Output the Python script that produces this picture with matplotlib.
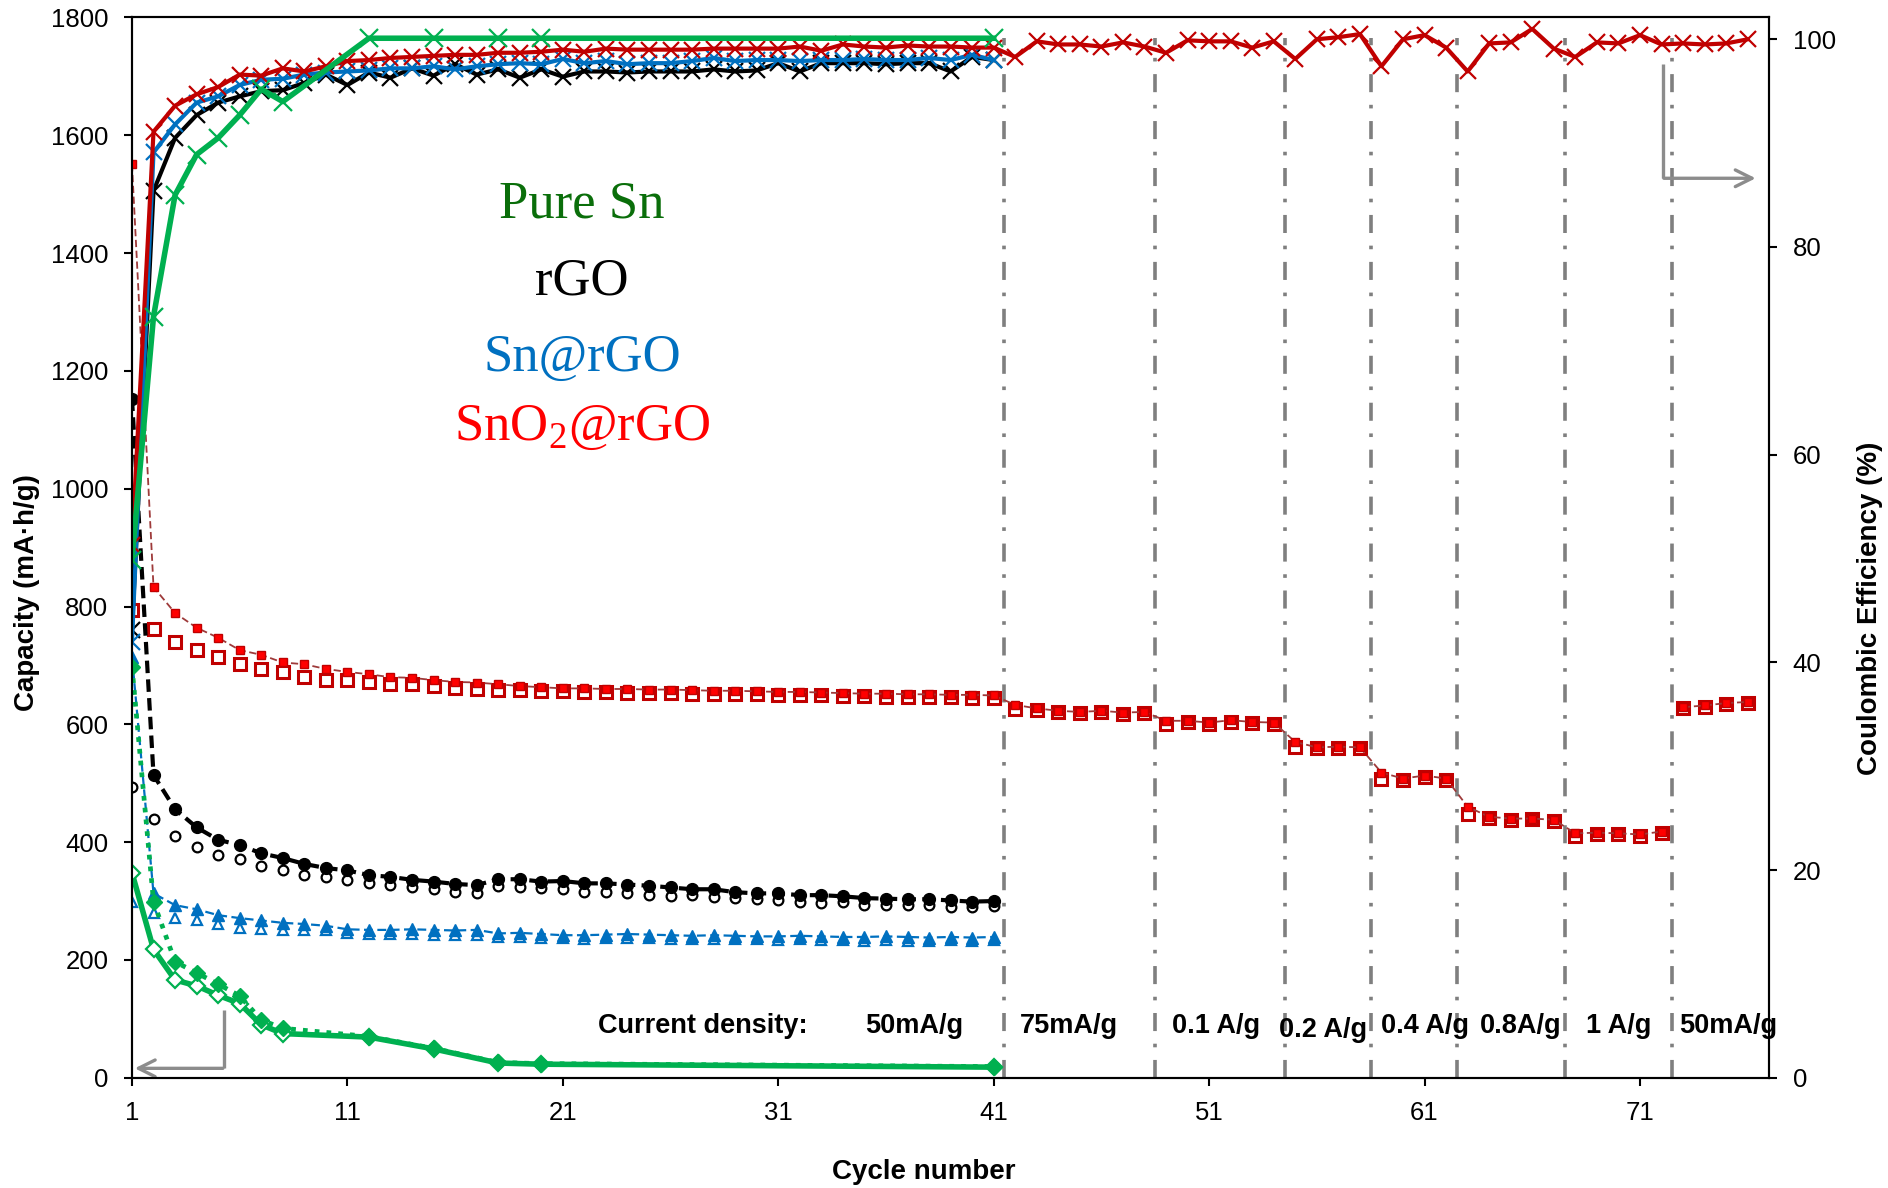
import matplotlib
matplotlib.use("Agg")
import matplotlib.pyplot as plt

plt.rcParams["font.family"] = ["Liberation Sans", "DejaVu Sans"]
plt.rcParams["mathtext.fontset"] = "custom"
plt.rcParams["mathtext.rm"] = "Liberation Serif"

# ===== Data =====
cyc41 = list(range(1, 42))
cyc76 = list(range(1, 77))
cyc_sn = [1, 2, 3, 4, 5, 6, 7, 8, 12, 15, 18, 20, 41]

# SnO2@rGO capacity (mA h/g)
sno2_dis = [1551, 833, 789, 764, 747, 726, 718, 705, 702, 694, 689, 685, 680, 679, 675, 672, 671, 668, 665, 663,
            661, 661, 660, 660, 659, 659, 658, 657, 657, 656, 655, 655, 654, 653, 652, 652, 651, 651, 650, 650, 649,
            633, 627, 623, 621, 623, 620, 621,
            606, 606, 603, 607, 604, 603,
            570, 561, 562, 561,
            518, 508, 513, 508,
            460, 443, 440, 440, 438,
            415, 416, 415, 413, 418,
            629, 632, 636, 638]
sno2_chg = [794, 761, 740, 726, 714, 702, 694, 688, 680, 676, 675, 672, 668, 668, 665, 662, 660, 658, 658, 657,
            656, 655, 655, 654, 654, 653, 652, 652, 651, 651, 650, 649, 649, 648, 648, 647, 647, 646, 646, 645, 645,
            626, 624, 621, 620, 621, 618, 619,
            600, 604, 601, 604, 602, 601,
            562, 559, 560, 559,
            508, 506, 510, 506,
            448, 441, 438, 440, 436,
            410, 413, 413, 411, 416,
            627, 630, 634, 636]

# rGO capacity
rgo_dis = [1153, 514, 456, 425, 404, 395, 381, 373, 363, 356, 352, 344, 341, 336, 333, 329, 327, 337, 337, 333,
           334, 330, 330, 328, 326, 323, 320, 320, 315, 313, 313, 310, 310, 308, 305, 304, 303, 303, 301, 299, 300]
rgo_chg = [493, 439, 410, 392, 378, 371, 359, 353, 344, 341, 335, 330, 327, 323, 320, 316, 313, 325, 323, 322,
           321, 316, 315, 313, 310, 308, 310, 307, 305, 303, 301, 298, 297, 298, 294, 293, 293, 294, 290, 290, 291]

# Sn@rGO capacity
snrgo_dis = [715, 313, 293, 286, 276, 271, 267, 263, 261, 258, 252, 251, 251, 252, 251, 250, 251, 245, 246, 244,
             242, 242, 243, 244, 243, 242, 241, 242, 241, 240, 240, 241, 240, 239, 239, 240, 239, 238, 239, 238, 239]
snrgo_chg = [299, 279, 271, 267, 261, 255, 252, 251, 251, 250, 245, 244, 244, 244, 242, 242, 242, 239, 239, 238,
             237, 236, 237, 238, 237, 236, 235, 236, 235, 235, 234, 235, 234, 234, 233, 234, 233, 233, 234, 233, 234]

# Pure Sn capacity
sn_dis = [698, 299, 197, 178, 159, 139, 98, 84, 70, 50, 26, 24, 19]
sn_chg = [348, 218, 166, 156, 140, 126, 90, 75, 69, 49, 25, 23, 18]

# Coulombic efficiency (%)
sno2_ce = [51.3, 91.1, 93.6, 94.7, 95.4, 96.6, 96.5, 97.2, 96.9, 97.4, 97.9, 98.0, 98.2, 98.3, 98.4, 98.5, 98.5,
           98.7, 98.7, 98.8, 99.0, 98.8, 99.1, 99.0, 99.0, 99.0, 99.0, 99.1, 99.1, 99.1, 99.1, 99.3, 98.9, 99.5,
           99.3, 99.2, 99.4, 99.3, 99.3, 99.2, 99.2,
           98.3, 99.8, 99.5, 99.5, 99.3, 99.7, 99.3, 98.7, 99.9, 99.8, 99.8, 99.2, 99.8, 98.1, 100.0, 100.2,
           100.5, 97.4, 100.0, 100.4, 99.2, 96.9, 99.6, 99.7, 101.0, 99.1, 98.3, 99.7, 99.6, 100.4, 99.5, 99.6,
           99.5, 99.6, 100.0]
rgo_ce = [43.1, 85.4, 90.5, 92.7, 93.9, 94.5, 95.0, 95.1, 95.8, 96.6, 95.6, 96.8, 96.3, 97.2, 96.5, 97.6, 96.6,
          97.1, 96.3, 97.1, 96.4, 96.9, 96.9, 96.8, 96.9, 96.9, 96.9, 97.1, 96.9, 97.0, 97.7, 96.9, 97.7, 97.7,
          97.7, 97.6, 97.7, 97.7, 96.9, 98.3, 98.0]
snrgo_ce = [42.0, 89.1, 91.8, 93.9, 94.5, 95.6, 96.1, 96.2, 96.6, 96.8, 96.9, 97.0, 97.2, 97.2, 97.4, 97.1, 97.4,
            97.6, 97.7, 97.6, 98.1, 97.7, 97.9, 97.6, 97.7, 97.7, 97.9, 98.2, 97.9, 98.0, 98.0, 97.9, 98.0, 98.0,
            98.1, 98.0, 98.0, 98.2, 98.0, 98.5, 98.0]
sn_ce = [49.9, 73.3, 85.0, 88.9, 90.5, 92.7, 95.2, 94.0, 100.1, 100.1, 100.1, 100.1, 100.1]

# Current density steps
rate_changes = [41.5, 48.5, 54.5, 58.5, 62.5, 67.5, 72.5]
rate_labels = ["50mA/g", "75mA/g", "0.1 A/g", "0.2 A/g", "0.4 A/g", "0.8A/g", "1 A/g", "50mA/g"]
rate_label_x = [37.3, 44.5, 51.3, 56.3, 61.0, 65.45, 70.0, 75.1]
rate_label_y = [76, 76, 76, 70, 76, 76, 76, 76]

# ===== Colors =====
GREEN = "#00B050"
BLUE = "#0070C0"
DRED = "#C00000"
RED = "#FF0000"
GRAY = "#7f7f7f"

# ===== Plot =====
fig = plt.figure(figsize=(18.88, 11.88), dpi=100)
ax = fig.add_axes([0.0699, 0.0928, 0.8672, 0.8925])
ax2 = ax.twinx()

# rate change separators
ax.vlines(rate_changes, 0, 1765, colors=GRAY, linewidth=2.6,
          linestyles=[(0, (5, 3.5, 1, 3.5))], zorder=1)

# capacity curves (the last 50 mA/g block is plotted as its own segment)
ax.plot(cyc76, sno2_chg, ls="none", marker="s", ms=9, mfc="white", mec=DRED, mew=2.2, zorder=3)
ax.plot(cyc76[:72], sno2_dis[:72], ls=(0, (4, 2)), lw=1.3, color="#9e3a3a",
        marker="s", ms=5.5, mfc=RED, mec=DRED, mew=1.0, zorder=4)
ax.plot(cyc76[72:], sno2_dis[72:], ls=(0, (4, 2)), lw=1.3, color="#9e3a3a",
        marker="s", ms=5.5, mfc=RED, mec=DRED, mew=1.0, zorder=4)

ax.plot(cyc41, rgo_chg, ls="none", marker="o", ms=7, mfc="white", mec="black", mew=1.6, zorder=3)
ax.plot(cyc41, rgo_dis, ls=(0, (3, 1.5)), lw=3, color="black", marker="o", ms=8.5, zorder=4)

ax.plot(cyc41, snrgo_chg, ls="none", marker="^", ms=7.5, mfc="white", mec=BLUE, mew=1.6, zorder=3)
ax.plot(cyc41, snrgo_dis, ls=(0, (4, 2)), lw=1.6, color=BLUE, marker="^", ms=8.5, zorder=4)

ax.plot(cyc_sn, sn_chg, ls="-", lw=4, color=GREEN, marker="D", ms=8, mfc="white", mec=GREEN, mew=1.6, zorder=3)
ax.plot(cyc_sn, sn_dis, ls=(0, (1, 1.5)), lw=3.4, color=GREEN, marker="D", ms=8, zorder=4)

# coulombic efficiency curves
ax2.plot(cyc41, rgo_ce, color="black", lw=3, marker="x", ms=11, mew=1.6)
ax2.plot(cyc41, snrgo_ce, color=BLUE, lw=3, marker="x", ms=11, mew=1.6)
ax2.plot(cyc76, sno2_ce, color=DRED, lw=3, marker="x", ms=11, mew=1.6)
ax2.plot(cyc_sn, sn_ce, color=GREEN, lw=4, marker="x", ms=13, mew=1.6)

# sample names
serif = "Liberation Serif"
ax.text(21.9, 1461, "Pure Sn", color="#0a6e0a", fontsize=38, family=serif, ha="center", va="baseline")
ax.text(21.9, 1329, "rGO", color="black", fontsize=38, family=serif, ha="center", va="baseline")
ax.text(21.9, 1200, "Sn@rGO", color=BLUE, fontsize=38, family=serif, ha="center", va="baseline")
ax.text(21.9, 1083, r"SnO$_\mathrm{2}$@rGO", color=RED, fontsize=38, family=serif, ha="center", va="baseline")

# current density labels
ax.text(27.5, 76, "Current density:", fontsize=19.5, fontweight="bold", ha="center", va="baseline")
for lx, ly, lab in zip(rate_label_x, rate_label_y, rate_labels):
    ax.text(lx, ly, lab, fontsize=19.5, fontweight="bold", ha="center", va="baseline")

# axis arrows
ax.plot([5.28, 5.28], [115, 16], color="#8c8c8c", lw=2.4, solid_capstyle="butt", zorder=5)
ax.annotate("", xy=(1.0, 16), xytext=(5.35, 16),
            arrowprops=dict(arrowstyle="->", color="#8c8c8c", lw=2.4, mutation_scale=30), zorder=5)
ax.plot([72.05, 72.05], [1721, 1527], color="#8c8c8c", lw=2.4, solid_capstyle="butt", zorder=5)
ax.annotate("", xy=(76.5, 1527), xytext=(71.98, 1527),
            arrowprops=dict(arrowstyle="->", color="#8c8c8c", lw=2.4, mutation_scale=30), zorder=5)

# axes styling
ax.set_xlim(1, 77)
ax.set_ylim(0, 1800)
ax2.set_ylim(0, 102.1)
ax.set_xticks(list(range(1, 72, 10)))
ax.set_yticks(list(range(0, 1801, 200)))
ax2.set_yticks(list(range(0, 101, 20)))

for a in (ax, ax2):
    a.tick_params(direction="out", length=6, width=1.5, labelsize=18.5, pad=11)
    for s in a.spines.values():
        s.set_linewidth(1.5)

ax.text(-0.0644, 0.458, "Capacity (mA·h/g)", transform=ax.transAxes, rotation=90,
        fontsize=20, fontweight="bold", ha="center", va="center")
ax.text(1.0615, 0.443, "Coulombic Efficiency (%)", transform=ax.transAxes, rotation=90,
        fontsize=20, fontweight="bold", ha="center", va="center")
ax.text(0.4834, -0.0885, "Cycle number", transform=ax.transAxes,
        fontsize=20, fontweight="bold", ha="center", va="center")

fig.savefig("out.png", dpi=100)
